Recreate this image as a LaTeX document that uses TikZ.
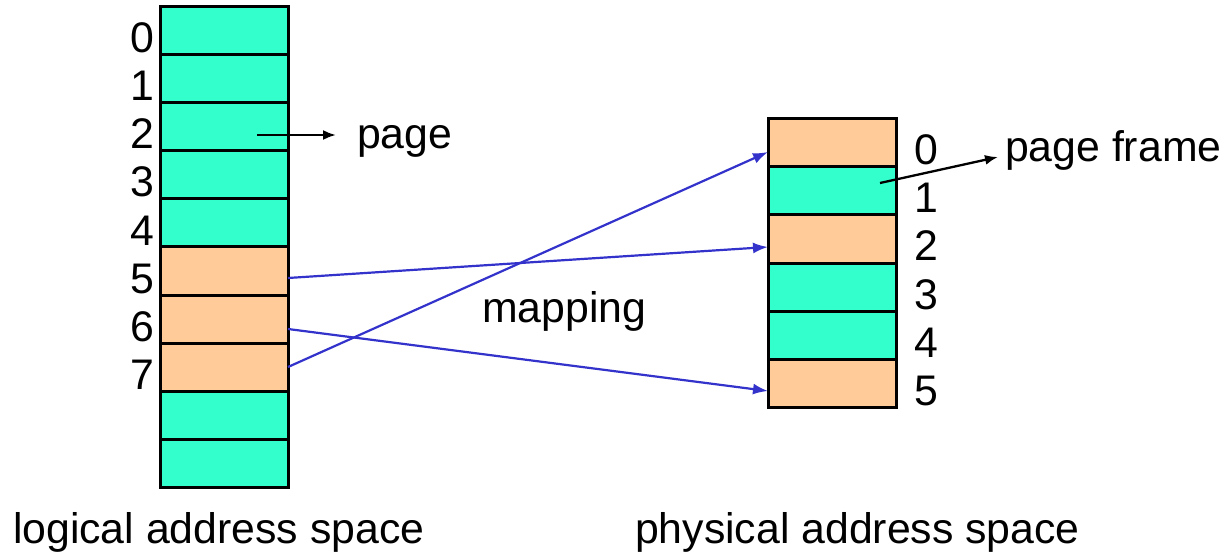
\documentclass[tikz,border=0pt]{standalone}
\usepackage{fontspec}
\setmainfont{Liberation Sans}
\usetikzlibrary{arrows.meta}

\definecolor{pagegreen}{HTML}{33FFCC}
\definecolor{pagepeach}{HTML}{FFCC99}
\definecolor{mapblue}{HTML}{3333CC}

\begin{document}
\begin{tikzpicture}[x=1pt,y=-1pt,
  every node/.style={font=\fontsize{42.8}{50}\selectfont, inner sep=0pt, outer sep=0pt},
  cell/.style={draw=black, line width=3pt, minimum width=128pt, minimum height=48pt, anchor=north west},
  green/.style={cell, fill=pagegreen},
  peach/.style={cell, fill=pagepeach},
  lbl/.style={anchor=base west},
  num/.style={anchor=base},
  pointer/.style={line width=2.3pt, -{Latex[length=13pt,width=10pt]}},
  mapline/.style={draw=mapblue, line width=2.2pt, -{Latex[length=15pt,width=11pt]}}
]
\useasboundingbox (0,0) rectangle (1225,553);

% logical address space: ten pages
\node[green] (L0) at (160,7)   {};
\node[green] (L1) at (160,55)  {};
\node[green] (L2) at (160,103) {};
\node[green] (L3) at (160,151) {};
\node[green] (L4) at (160,199) {};
\node[peach] (L5) at (160,247) {};
\node[peach] (L6) at (160,295) {};
\node[peach] (L7) at (160,343) {};
\node[green] (L8) at (160,391) {};
\node[green] (L9) at (160,439) {};

% physical address space: six frames
\node[peach] (R0) at (768,119) {};
\node[green] (R1) at (768,167) {};
\node[peach] (R2) at (768,215) {};
\node[green] (R3) at (768,263) {};
\node[green] (R4) at (768,311) {};
\node[peach] (R5) at (768,359) {};

% page numbers
\foreach \i/\y in {0/53,1/101,2/149,3/197,4/245,5/293,6/341,7/389}
  \node[num] (ln\i) at (142,\y) {\i};
% frame numbers
\foreach \i/\y in {0/165,1/213,2/261,3/309,4/357,5/405}
  \node[num] (rn\i) at (926,\y) {\i};

% labels
\node[lbl] (page)  at (357,149) {page};
\node[lbl] (frame) at (1005,162) {page frame};
\node[lbl] (map)   at (482,322) {mapping};
\node[lbl] (lspace) at (13,543) {logical address space};
\node[lbl] (pspace) at (635,543) {physical address space};

% pointers to the labels
\coordinate (pagetip)  at (336,135);
\coordinate (frametip) at (998,157);
\draw[pointer] ([xshift=33pt,yshift=-8pt]L2.center) -- (pagetip);
\draw[pointer] ([xshift=48pt,yshift=8pt]R1.center) -- (frametip);

% page-to-frame mapping
\draw[mapline] ([yshift=-7pt]L5.east) -- ([yshift=-8pt]R2.west);
\draw[mapline] ([yshift=-10pt]L6.east) -- ([yshift=-8pt]R5.west);
\draw[mapline] (L7.east) -- ([yshift=-9pt]R0.west);
\end{tikzpicture}
\end{document}
